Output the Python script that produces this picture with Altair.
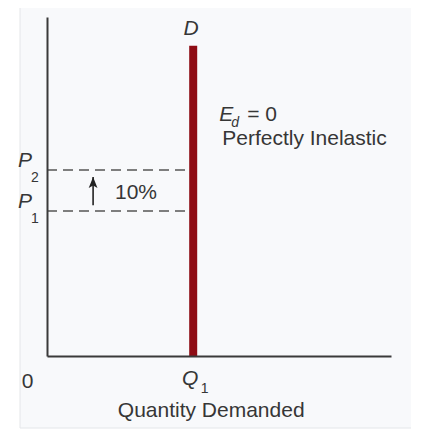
import altair as alt
import pandas as pd

# Values (economic units, 0-10 scale on both axes)
q1 = [4.25]
p_levels = [4.28, 5.49]          # P1, P2
demand_top = [9.15]
arrow_x = [1.34]
arrow_tail_tip = [4.45, 5.28]

X_DOMAIN = [0, 10]
Y_DOMAIN = [0, 10]
W, H = 344, 339

FONT = "Liberation Sans"
TXT = "#363636"

xs = alt.Scale(domain=X_DOMAIN, nice=False, zero=False)
ys = alt.Scale(domain=Y_DOMAIN, nice=False, zero=False)

ax_x = alt.Axis(labels=False, ticks=False, grid=False, title=None,
                domainColor="#3a3a3a", domainWidth=2, zindex=1)
ax_y = alt.Axis(labels=False, ticks=False, grid=False, title=None,
                domainColor="#3a3a3a", domainWidth=2, zindex=1)

# background card
card = alt.Chart(pd.DataFrame({"a": [0]})).mark_rect(
    fill="#f8f9fb", stroke="#e4e6e9", strokeWidth=1
).encode(
    x=alt.value(-27), x2=alt.value(374), y=alt.value(-16), y2=alt.value(411)
)

# axes carrier (invisible points) – establishes scales and axes
axes_df = pd.DataFrame({"q": X_DOMAIN, "p": Y_DOMAIN})
axes = alt.Chart(axes_df).mark_point(opacity=0).encode(
    x=alt.X("q:Q", scale=xs, axis=ax_x),
    y=alt.Y("p:Q", scale=ys, axis=ax_y),
)

# dashed price lines
dash_df = pd.DataFrame({"x0": [0, 0], "x1": [q1[0], q1[0]], "p": p_levels})
dashes = alt.Chart(dash_df).mark_rule(
    color="#555555", strokeWidth=1.5, strokeDash=[10, 6]
).encode(x="x0:Q", x2="x1:Q", y="p:Q")

# demand curve (vertical)
dem_df = pd.DataFrame({"q": q1, "y0": [0], "y1": demand_top})
demand = alt.Chart(dem_df).mark_rule(
    color="#8e0c14", strokeWidth=8, strokeCap="butt"
).encode(x="q:Q", y="y0:Q", y2="y1:Q")

# arrow
arr_df = pd.DataFrame({"x": arrow_x, "y0": [arrow_tail_tip[0]], "y1": [arrow_tail_tip[1]]})
shaft = alt.Chart(arr_df).mark_rule(color="#222222", strokeWidth=1.6).encode(
    x="x:Q", y="y0:Q", y2="y1:Q"
)
head = alt.Chart(arr_df).mark_point(
    shape="M0,0L0.4,1L0,0.78L-0.4,1Z", filled=True, fill="#222222",
    opacity=1, size=484
).encode(x="x:Q", y="y1:Q")


def label(df_x, df_y, text, dx, dy, size=21, italic=False, align="left"):
    d = pd.DataFrame({"x": [df_x], "y": [df_y], "t": [text]})
    kw = dict(font=FONT, fontSize=size, color=TXT, align=align,
              baseline="alphabetic", dx=dx, dy=dy)
    if italic:
        kw["fontStyle"] = "italic"
    return alt.Chart(d).mark_text(**kw).encode(x="x:Q", y="y:Q", text="t:N")


labels = [
    label(q1[0], demand_top[0], "D", -2, -11, 21, True, "center"),
    label(q1[0], demand_top[0], "E", 26, 75, 21, True),
    label(q1[0], demand_top[0], "d", 38, 81, 14, True),
    label(q1[0], demand_top[0], "= 0", 54, 75, 21),
    label(q1[0], demand_top[0], "Perfectly Inelastic", 29, 99, 21),
    label(0, p_levels[0], "10%", 68, -12, 21),
    label(0, 0, "0", -19.5, 32, 21, False, "center"),
    label(q1[0], 0, "Q", -3, 29, 21, True, "center"),
    label(q1[0], 0, "1", 11.5, 37, 14, False, "center"),
    label(q1[0], 0, "Quantity Demanded", 18, 61, 21, False, "center"),
    label(0, p_levels[1], "P", -22, -3, 21, True, "center"),
    label(0, p_levels[1], "2", -12, 12, 14, False, "center"),
    label(0, p_levels[0], "P", -22, -3, 21, True, "center"),
    label(0, p_levels[0], "1", -12, 12, 14, False, "center"),
]

chart = alt.layer(card, axes, dashes, demand, shaft, head, *labels).properties(
    width=W, height=H,
    autosize=alt.AutoSizeParams(type="none"),
    padding={"left": 39, "top": 9, "right": 20, "bottom": 80},
    background="white",
).configure_view(stroke=None)

chart.save("out.html", embed_options={"renderer": "svg", "actions": False})
